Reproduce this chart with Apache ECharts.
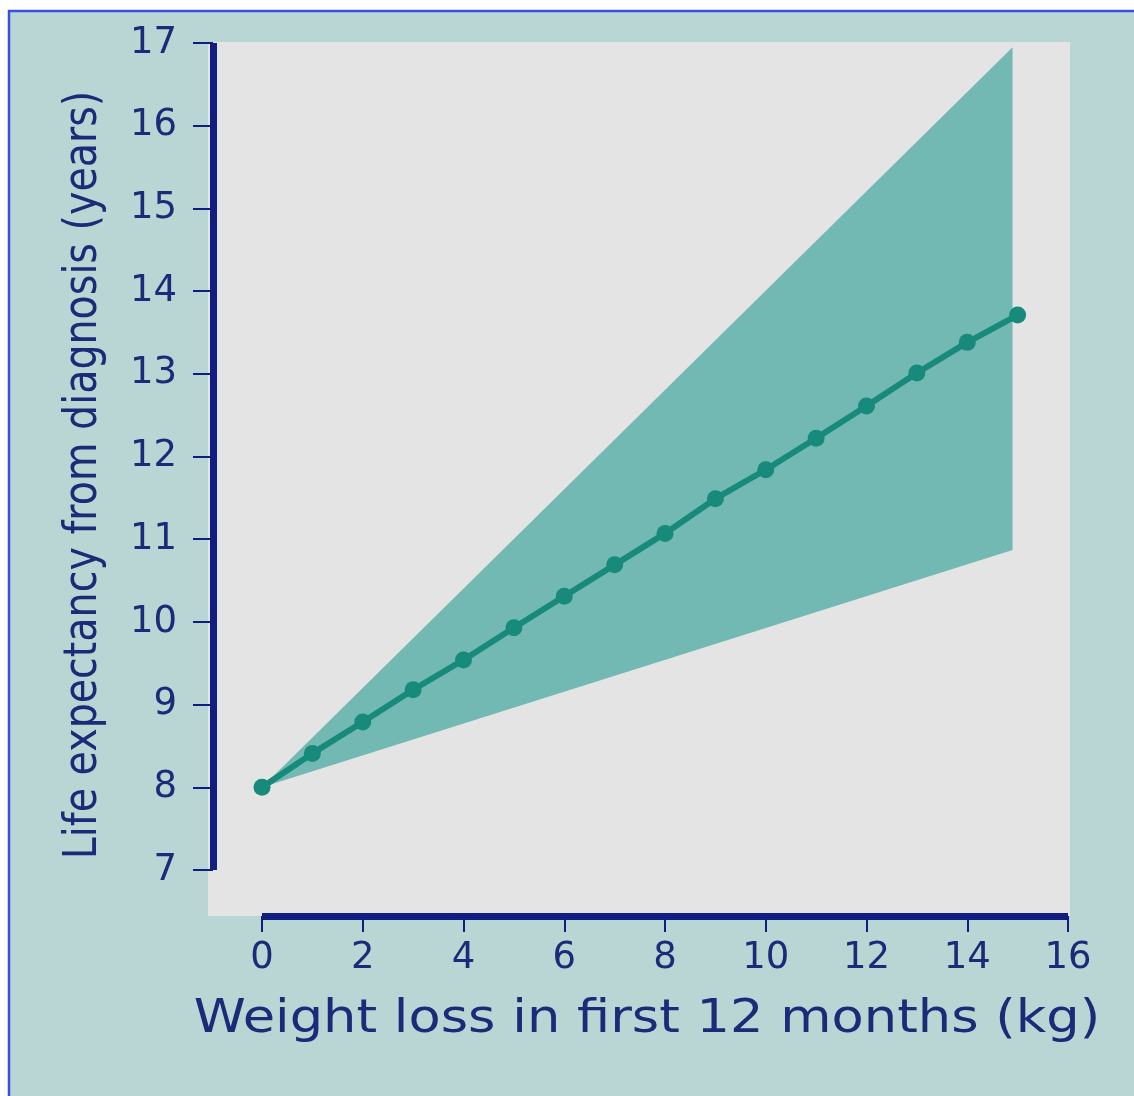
<!DOCTYPE html>
<html>
<head>
<meta charset="utf-8">
<script src="https://cdn.jsdelivr.net/npm/echarts@6/dist/echarts.min.js"></script>
<style>
  html, body { margin: 0; padding: 0; background: #ffffff; }
  #chart { width: 1134px; height: 1096px; }
</style>
</head>
<body>
<div id="chart"></div>
<script>
// Predicted life expectancy by weight loss during the first year
const weightLoss = [0, 1, 2, 3, 4, 5, 6, 7, 8, 9, 10, 11, 12, 13, 14, 15];
const lifeExpectancy = [8.0, 8.41, 8.79, 9.18, 9.54, 9.93, 10.31, 10.69, 11.07, 11.49, 11.84, 12.22, 12.61, 13.01, 13.38, 13.71];

// Confidence band around the estimate
const bandWeight = [0, 14.9];
const bandLower = [8.0, 10.87];
const bandUpper = [8.0, 16.95];

const xTickLabels = ['0', '2', '4', '6', '8', '10', '12', '14', '16'];
const yTickLabels = ['7', '8', '9', '10', '11', '12', '13', '14', '15', '16', '17'];

const navy = '#101e82';
const textNavy = '#1c2a78';
const teal = '#178a7b';
const bandFill = '#72b9b4';

const chart = echarts.init(document.getElementById('chart'), null, { renderer: 'canvas' });

const option = {
  backgroundColor: '#ffffff',
  animation: false,
  graphic: [
    { type: 'rect', z: -20, silent: true,
      shape: { x: 8, y: 10, width: 1126, height: 1086 },
      style: { fill: '#b9d6d4' } },
    { type: 'line', z: -19, silent: true,
      shape: { x1: 9, y1: 10, x2: 9, y2: 1096 },
      style: { stroke: '#3a4fe0', lineWidth: 2.5 } },
    { type: 'line', z: -19, silent: true,
      shape: { x1: 8, y1: 11, x2: 1134, y2: 11 },
      style: { stroke: '#3a4fe0', lineWidth: 2.5 } },
    { type: 'rect', z: -18, silent: true,
      shape: { x: 208, y: 42, width: 862, height: 874 },
      style: { fill: '#e4e4e4' } },
    { type: 'text', z: 5, silent: true,
      x: 84, y: 475, rotation: Math.PI / 2, scaleX: 0.86,
      style: {
        text: 'Life expectancy from diagnosis (years)',
        font: '46px "DejaVu Sans"', fill: textNavy,
        align: 'center', verticalAlign: 'middle'
      } },
    { type: 'text', z: 5, silent: true,
      x: 647, y: 1020, scaleX: 1.12,
      style: {
        text: 'Weight loss in first 12 months (kg)',
        font: '47px "DejaVu Sans"', fill: textNavy,
        align: 'center', verticalAlign: 'middle'
      } }
  ],
  grid: { left: 262, right: 66, top: 43, bottom: 226, containLabel: false },
  xAxis: {
    type: 'value', min: 0, max: 16, interval: 2, offset: 46,
    axisLine: { onZero: false, lineStyle: { color: navy, width: 7, cap: 'butt' } },
    axisTick: { length: 16, lineStyle: { color: navy, width: 2 } },
    axisLabel: {
      margin: 24, fontSize: 37, color: textNavy, fontFamily: 'DejaVu Sans',
      formatter: (v) => xTickLabels[Math.round(v / 2)]
    },
    splitLine: { show: false }
  },
  yAxis: {
    type: 'value', min: 7, max: 17, interval: 1, offset: 49,
    axisLine: { show: true, onZero: false, lineStyle: { color: navy, width: 7, cap: 'butt' } },
    axisTick: { show: true, length: 20, lineStyle: { color: navy, width: 2 } },
    axisLabel: {
      margin: 36, fontSize: 37, color: textNavy, fontFamily: 'DejaVu Sans',
      formatter: (v) => yTickLabels[Math.round(v - 7)]
    },
    splitLine: { show: false }
  },
  series: [
    {
      type: 'custom',
      silent: true,
      clip: false,
      z: 2,
      data: [0],
      renderItem: function (params, api) {
        const pts = [];
        for (let i = 0; i < bandWeight.length; i++) {
          pts.push(api.coord([bandWeight[i], bandUpper[i]]));
        }
        for (let i = bandWeight.length - 1; i >= 0; i--) {
          pts.push(api.coord([bandWeight[i], bandLower[i]]));
        }
        return { type: 'polygon', shape: { points: pts }, style: { fill: bandFill } };
      }
    },
    {
      type: 'line',
      z: 3,
      data: weightLoss.map((w, i) => [w, lifeExpectancy[i]]),
      symbol: 'circle',
      symbolSize: 17,
      showSymbol: true,
      lineStyle: { color: teal, width: 6 },
      itemStyle: { color: teal }
    }
  ]
};

chart.setOption(option);
</script>
</body>
</html>
